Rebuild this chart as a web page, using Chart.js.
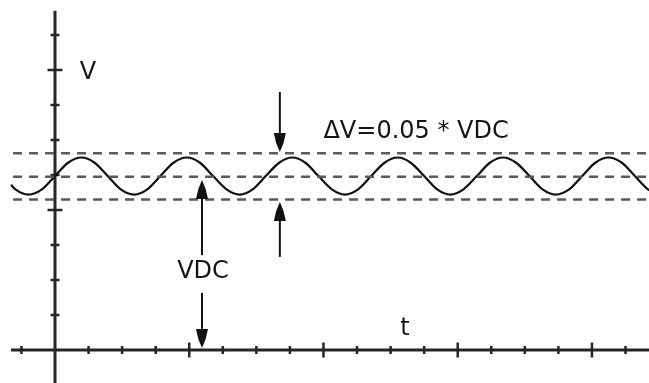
<!DOCTYPE html>
<html>
<head>
  <title>Rizado de tensión continua</title>
  <script src="https://cdn.jsdelivr.net/npm/chart.js@4/dist/chart.umd.min.js"></script>
  <style>
    body { margin: 0; background: #fff; }
    #wrap { width: 649px; height: 383px; }
  </style>
</head>
<body>
  <div id="wrap"><canvas id="chartCanvas"></canvas></div>

  <script>
    // ripple voltage around the DC level, sampled every eighth of a period
    const waveT = [-1.31, -1.18, -0.79, -0.39, 0, 0.39, 0.79, 1.18, 1.57, 1.96, 2.36, 2.75,
      3.14, 3.53, 3.93, 4.32, 4.71, 5.11, 5.50, 5.89, 6.28, 6.68, 7.07, 7.46, 7.85, 8.25,
      8.64, 9.03, 9.42, 9.82, 10.21, 10.60, 11.00, 11.39, 11.78, 12.17, 12.57, 12.96, 13.35,
      13.74, 14.14, 14.53, 14.92, 15.32, 15.71, 16.10, 16.49, 16.89, 17.28, 17.67, 18.06];
    const waveV = [4.72, 4.59, 4.44, 4.59, 4.97, 5.35, 5.50, 5.35, 4.97, 4.59, 4.44, 4.59,
      4.97, 5.35, 5.50, 5.35, 4.97, 4.59, 4.44, 4.59, 4.97, 5.35, 5.50, 5.35, 4.97, 4.59,
      4.44, 4.59, 4.97, 5.35, 5.50, 5.35, 4.97, 4.59, 4.44, 4.59, 4.97, 5.35, 5.50, 5.35,
      4.97, 4.59, 4.44, 4.59, 4.97, 5.35, 5.50, 5.35, 4.97, 4.59, 4.44];

    // dashed reference levels: upper band, VDC, lower band
    const levels = [5.62, 4.95, 4.30];
    const levelStart = -1.25;
    const levelEnd = 17.75;

    // axes and tick marks
    const xRange = [-1.31, 17.75];
    const yRange = [-0.95, 9.69];
    const xTicks = [-1, 1, 2, 3, 4, 5, 6, 7, 8, 9, 10, 11, 12, 13, 14, 15, 16, 17];
    const yTicks = [1, 2, 3, 4, 5, 6, 7, 8, 9];
    const majorTicks = [4, 8, 12, 16];

    // arrows: [t, from, to]
    const arrows = [
      [6.70, 7.37, 5.66],
      [6.70, 2.66, 4.23],
      [4.38, 2.71, 4.86],
      [4.38, 1.63, 0.06]
    ];

    // annotations: [text, t, v]
    const labels = [
      ['V', 0.98, 7.91],
      ['\u0394V=0.05 * VDC', 10.76, 6.23],
      ['VDC', 4.41, 2.23],
      ['t', 10.43, 0.60]
    ];

    const axisPlugin = {
      id: 'axisCross',
      beforeDatasetsDraw(chart) {
        const ctx = chart.ctx;
        const x = chart.scales.x;
        const y = chart.scales.y;
        const x0 = x.getPixelForValue(0);
        const y0 = y.getPixelForValue(0);
        ctx.save();
        ctx.strokeStyle = '#262626';
        ctx.lineWidth = 3;
        ctx.beginPath();
        ctx.moveTo(x.getPixelForValue(xRange[0]), y0);
        ctx.lineTo(x.getPixelForValue(xRange[1]), y0);
        ctx.moveTo(x0, y.getPixelForValue(yRange[0]));
        ctx.lineTo(x0, y.getPixelForValue(yRange[1]));
        ctx.stroke();

        ctx.lineWidth = 2.5;
        ctx.beginPath();
        xTicks.forEach(t => {
          const px = x.getPixelForValue(t);
          const half = majorTicks.includes(t) ? 7.5 : 4;
          ctx.moveTo(px, y0 - half);
          ctx.lineTo(px, y0 + half);
        });
        yTicks.forEach(v => {
          const py = y.getPixelForValue(v);
          const half = majorTicks.includes(v) ? 7.5 : 4.5;
          ctx.moveTo(x0 - half, py);
          ctx.lineTo(x0 + half, py);
        });
        ctx.stroke();
        ctx.restore();
      },
      afterDatasetsDraw(chart) {
        const ctx = chart.ctx;
        const x = chart.scales.x;
        const y = chart.scales.y;
        ctx.save();
        ctx.strokeStyle = '#111';
        ctx.fillStyle = '#111';
        ctx.lineWidth = 2;
        arrows.forEach(([t, from, to]) => {
          const px = x.getPixelForValue(t);
          const p1 = y.getPixelForValue(from);
          const p2 = y.getPixelForValue(to);
          const dir = p2 > p1 ? 1 : -1;
          const headLen = 19;
          ctx.beginPath();
          ctx.moveTo(px, p1);
          ctx.lineTo(px, p2 - dir * headLen);
          ctx.stroke();
          // slightly convex head
          ctx.beginPath();
          ctx.moveTo(px, p2);
          ctx.quadraticCurveTo(px - 4.5, p2 - dir * 9, px - 6, p2 - dir * headLen);
          ctx.lineTo(px + 6, p2 - dir * headLen);
          ctx.quadraticCurveTo(px + 4.5, p2 - dir * 9, px, p2);
          ctx.fill();
        });

        ctx.font = '24px "DejaVu Sans"';
        ctx.textAlign = 'center';
        ctx.textBaseline = 'middle';
        ctx.fillStyle = '#151515';
        labels.forEach(([text, t, v]) => {
          ctx.fillText(text, x.getPixelForValue(t), y.getPixelForValue(v));
        });
        ctx.restore();
      }
    };

    const levelSets = levels.map(v => ({
      data: [{ x: levelStart, y: v }, { x: levelEnd, y: v }],
      showLine: true,
      borderColor: '#5a5a5a',
      borderWidth: 2.5,
      borderDash: [9, 7],
      pointRadius: 0
    }));

    const ctx = document.getElementById('chartCanvas').getContext('2d');
    new Chart(ctx, {
      type: 'scatter',
      data: {
        datasets: [
          ...levelSets,
          {
            data: waveT.map((t, i) => ({ x: t, y: waveV[i] })),
            showLine: true,
            borderColor: '#111',
            borderWidth: 2.2,
            pointRadius: 0,
            cubicInterpolationMode: 'monotone'
          }
        ]
      },
      options: {
        responsive: true,
        maintainAspectRatio: false,
        animation: false,
        layout: { padding: 0 },
        plugins: {
          legend: { display: false },
          tooltip: { enabled: false }
        },
        scales: {
          x: { type: 'linear', min: -1.639, max: 17.70, display: false },
          y: { type: 'linear', min: -0.943, max: 10, display: false }
        }
      },
      plugins: [axisPlugin]
    });
  </script>
</body>
</html>
